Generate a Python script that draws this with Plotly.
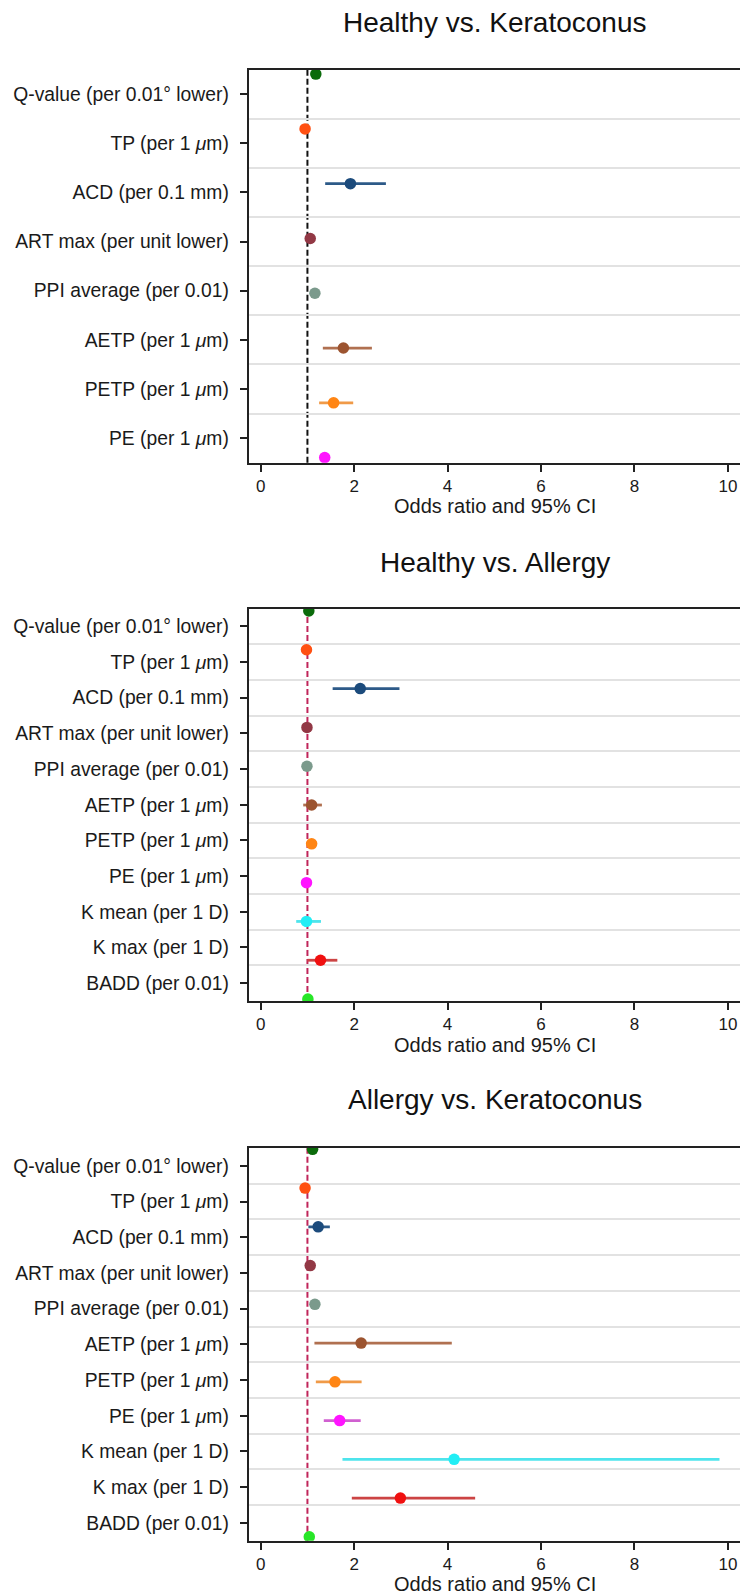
import plotly.graph_objects as go

W, H = 740, 1595

# ---------------- data ----------------
labels_short = [
    "Q-value (per 0.01° lower)",
    "TP (per 1 <i>μ</i>m)",
    "ACD (per 0.1 mm)",
    "ART max (per unit lower)",
    "PPI average (per 0.01)",
    "AETP (per 1 <i>μ</i>m)",
    "PETP (per 1 <i>μ</i>m)",
    "PE (per 1 <i>μ</i>m)",
]
labels_long = labels_short + [
    "K mean (per 1 D)",
    "K max (per 1 D)",
    "BADD (per 0.01)",
]

titles = ["Healthy vs. Keratoconus", "Healthy vs. Allergy", "Allergy vs. Keratoconus"]

# Healthy vs. Keratoconus
or_hk = [1.18, 0.95, 1.92, 1.06, 1.16, 1.77, 1.56, 1.37]
lo_hk = [1.14, 0.93, 1.38, 1.03, 1.13, 1.33, 1.25, 1.30]
hi_hk = [1.22, 0.97, 2.68, 1.09, 1.19, 2.38, 1.98, 1.44]

# Healthy vs. Allergy
or_ha = [1.03, 0.98, 2.13, 0.99, 0.99, 1.09, 1.09, 0.98, 0.98, 1.28, 1.01]
lo_ha = [1.01, 0.96, 1.54, 0.97, 0.97, 0.91, 1.05, 0.96, 0.76, 1.00, 0.99]
hi_ha = [1.05, 1.00, 2.97, 1.01, 1.01, 1.31, 1.13, 1.00, 1.29, 1.64, 1.03]

# Allergy vs. Keratoconus
or_ak = [1.11, 0.95, 1.23, 1.06, 1.16, 2.15, 1.59, 1.69, 4.14, 2.99, 1.04]
lo_ak = [1.09, 0.93, 1.02, 1.04, 1.14, 1.15, 1.18, 1.35, 1.75, 1.95, 1.02]
hi_ak = [1.13, 0.97, 1.48, 1.08, 1.18, 4.09, 2.16, 2.14, 9.82, 4.59, 1.06]

marker_colors = ["#0b6b0b", "#ff5012", "#1c4b7c", "#923845", "#7b9a8c",
                 "#9c5430", "#ff8514", "#ff14ff", "#22eef5", "#f01010", "#28e628"]
ci_colors = ["#0b6b0b", "#ff5012", "#2d5a88", "#923845", "#7b9a8c",
             "#b07050", "#f09a48", "#d060d0", "#4ee4ec", "#cc4444", "#28e628"]

ref_value = 1.0
ref_colors = ["#111111", "#c0255a", "#c0255a"]
x_ticks = [0, 2, 4, 6, 8, 10]

# ---------------- layout helpers ----------------
FONT = "Liberation Sans, Arial, Helvetica, sans-serif"
panels = [
    dict(labels=labels_short, orv=or_hk, lo=lo_hk, hi=hi_hk, top=69.5, bot=462.7,
         prange=[7.093, -0.084], title_y=22),
    dict(labels=labels_long, orv=or_ha, lo=lo_ha, hi=hi_ha, top=608.5, bot=1001.0,
         prange=[10.05, -0.064], title_y=562),
    dict(labels=labels_long, orv=or_ak, lo=lo_ak, hi=hi_ak, top=1148.0, bot=1540.7,
         prange=[10.10, -0.034], title_y=1099),
]

x_dom = [248.7 / W, 1.0]
x_rng = [-0.257, 10.259]

fig = go.Figure()
layout = dict(width=W, height=H, margin=dict(l=0, r=0, t=0, b=0),
              paper_bgcolor="white", plot_bgcolor="white", showlegend=False,
              font=dict(family=FONT, color="#1a1a1a"))
shapes, annotations = [], []

for p, pan in enumerate(panels, start=1):
    n = len(pan["labels"])
    ydom = [1 - pan["bot"] / H, 1 - pan["top"] / H]
    xk = "xaxis" if p == 1 else f"xaxis{p}"
    xr = "x" if p == 1 else f"x{p}"
    lab_i, pt_i = 2 * p - 1, 2 * p
    lab_k = "yaxis" if lab_i == 1 else f"yaxis{lab_i}"
    lab_r = "y" if lab_i == 1 else f"y{lab_i}"
    pt_k, pt_r = f"yaxis{pt_i}", f"y{pt_i}"

    layout[xk] = dict(domain=x_dom, range=x_rng, anchor=lab_r,
                      tickmode="array", tickvals=x_ticks,
                      ticks="outside", ticklen=7, tickwidth=1.5, tickcolor="#222",
                      showline=True, linecolor="#222", linewidth=2, mirror=True,
                      showgrid=False, zeroline=False,
                      tickfont=dict(size=17, family=FONT, color="#1a1a1a"))
    layout[lab_k] = dict(domain=ydom, anchor=xr, range=[n - 0.5, -0.5],
                         tickmode="array", tickvals=list(range(n)), ticktext=pan["labels"],
                         ticks="outside", ticklen=7, tickwidth=1.5, tickcolor="#222",
                         ticklabelstandoff=7,
                         showline=True, linecolor="#222", linewidth=2,
                         showgrid=False, zeroline=False,
                         tickfont=dict(size=19.3, family=FONT, color="#1a1a1a"),
                         minor=dict(tickmode="linear", tick0=0.5, dtick=1, showgrid=True,
                                    gridcolor="#e2e2e2", gridwidth=2, ticks=""))
    layout[pt_k] = dict(overlaying=lab_r, anchor=xr, range=pan["prange"],
                        visible=False, showgrid=False, zeroline=False)

    # invisible trace so the label axis subplot is realised
    fig.add_trace(go.Scatter(x=[None], y=[None], xaxis=xr, yaxis=lab_r,
                             mode="markers", hoverinfo="skip"))

    shapes.append(dict(type="line", xref=xr, yref=f"{lab_r} domain",
                       x0=ref_value, x1=ref_value, y0=0, y1=1, layer="below",
                       line=dict(color=ref_colors[p - 1], width=2, dash="6px,3px")))

    for i in range(n):
        o, l, h = pan["orv"][i], pan["lo"][i], pan["hi"][i]
        fig.add_trace(go.Scatter(
            x=[o], y=[i], xaxis=xr, yaxis=pt_r, mode="markers",
            marker=dict(size=11.5, color=marker_colors[i], line=dict(width=0)),
            error_x=dict(type="data", symmetric=False, array=[h - o], arrayminus=[o - l],
                         width=0, thickness=2.8, color=ci_colors[i]),
            hoverinfo="skip"))

    annotations.append(dict(text=titles[p - 1], xref="paper", yref="paper",
                            x=494.5 / W, y=1 - pan["title_y"] / H,
                            xanchor="center", yanchor="middle", showarrow=False,
                            font=dict(size=28, family=FONT, color="#111")))
    annotations.append(dict(text="Odds ratio and 95% CI", xref="paper", yref="paper",
                            x=495.3 / W, y=1 - (pan["bot"] + 43.5) / H,
                            xanchor="center", yanchor="middle", showarrow=False,
                            font=dict(size=20, family=FONT, color="#1a1a1a")))

layout["shapes"] = shapes
layout["annotations"] = annotations
fig.update_layout(**layout)

fig.write_html("out.html", config={"displayModeBar": False},
               post_script="document.body.style.margin='0';document.body.style.overflow='hidden';")
